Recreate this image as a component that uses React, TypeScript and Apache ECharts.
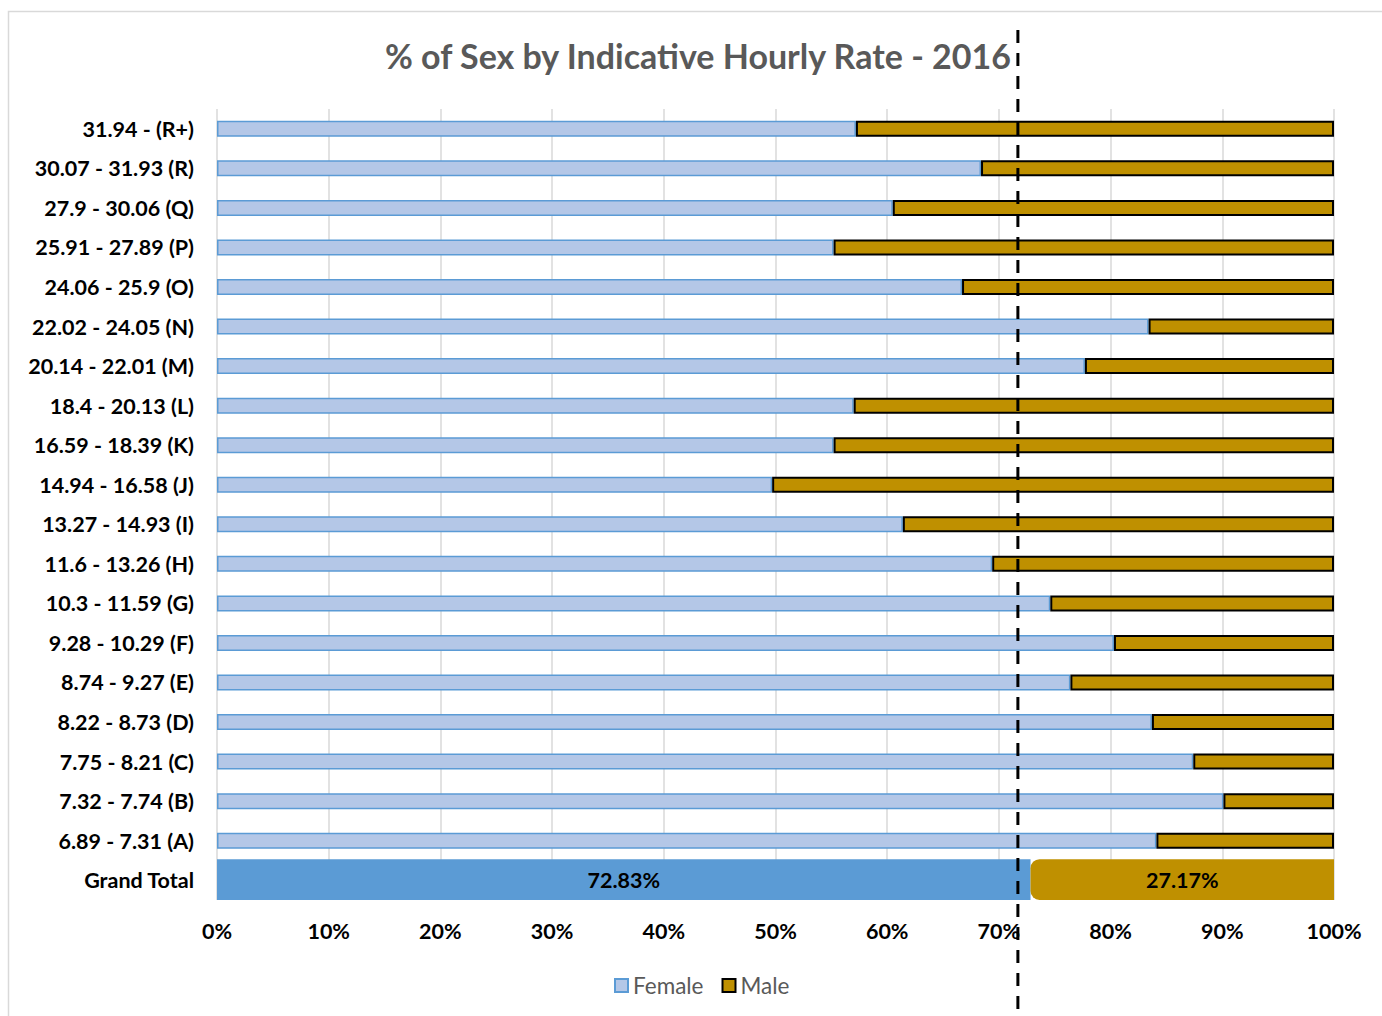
import React, { useEffect, useRef } from "react";
import * as echarts from "echarts";

const categories = [
  "31.94 - (R+)",
  "30.07 - 31.93 (R)",
  "27.9 - 30.06 (Q)",
  "25.91 - 27.89 (P)",
  "24.06 - 25.9 (O)",
  "22.02 - 24.05 (N)",
  "20.14 - 22.01 (M)",
  "18.4 - 20.13 (L)",
  "16.59 - 18.39 (K)",
  "14.94 - 16.58 (J)",
  "13.27 - 14.93 (I)",
  "11.6 - 13.26 (H)",
  "10.3 - 11.59 (G)",
  "9.28 - 10.29 (F)",
  "8.74 - 9.27 (E)",
  "8.22 - 8.73 (D)",
  "7.75 - 8.21 (C)",
  "7.32 - 7.74 (B)",
  "6.89 - 7.31 (A)",
];
const femaleValues = [57.2, 68.4, 60.5, 55.2, 66.7, 83.4, 77.7, 57.0, 55.2, 49.7, 61.4, 69.4, 74.6, 80.3, 76.4, 83.7, 87.4, 90.1, 84.1];
const maleValues = [42.8, 31.6, 39.5, 44.8, 33.3, 16.6, 22.3, 43.0, 44.8, 50.3, 38.6, 30.6, 25.4, 19.7, 23.6, 16.3, 12.6, 9.9, 15.9];
const totalLabel = "Grand Total";
const totalFemale = 72.83;
const totalMale = 27.17;
const referenceLineValue = 71.7;
const xTicks = [0, 10, 20, 30, 40, 50, 60, 70, 80, 90, 100];

const FONT = "Lato, 'Open Sans', sans-serif";
const LABEL_SIZE = 21.5;

export default function App() {
  const ref = useRef<HTMLDivElement>(null);
  useEffect(() => {
    if (!ref.current) return;
    const chart = echarts.init(ref.current, undefined, { renderer: "svg" });
    const allCats = [...categories, totalLabel];
    const femaleData = [...femaleValues, "-"];
    const maleData = [...maleValues, "-"];
    const totalFemaleData = allCats.map((c) => (c === totalLabel ? totalFemale : "-"));
    const totalMaleData = allCats.map((c) => (c === totalLabel ? totalMale : "-"));

    const boldLabel = {
      fontFamily: FONT,
      fontSize: LABEL_SIZE,
      fontWeight: "bold",
      color: "#000",
    };

    chart.setOption({
      animation: false,
      textStyle: { fontFamily: FONT },
      title: {
        text: "% of Sex by Indicative Hourly Rate - 2016",
        left: 380,
        top: 33,
        textStyle: { fontFamily: FONT, fontSize: 34, fontWeight: "bold", color: "#595959" },
      },
      legend: {
        data: ["Female", "Male"],
        left: 609,
        top: 969,
        icon: "rect",
        itemWidth: 13,
        itemHeight: 13,
        itemGap: 18,
        itemTextGap: 6,
        textStyle: { fontFamily: FONT, fontSize: 22.5, color: "#595959" },
      },
      grid: { left: 217, right: 48, top: 109, bottom: 116, containLabel: false },
      xAxis: {
        type: "value",
        min: xTicks[0],
        max: xTicks[xTicks.length - 1],
        interval: 10,
        axisLine: { show: false },
        axisTick: { show: false },
        splitLine: { lineStyle: { color: "#d9d9d9", width: 1.5 } },
        axisLabel: { formatter: "{value}%", margin: 20, ...boldLabel },
      },
      yAxis: [
        {
          type: "category",
          data: allCats,
          inverse: true,
          axisLine: { show: false },
          axisTick: { show: false },
          axisLabel: { margin: 23, ...boldLabel },
        },
        { type: "category", data: allCats, inverse: true, show: false },
      ],
      series: [
        {
          name: "Female",
          type: "bar",
          stack: "rows",
          yAxisIndex: 0,
          barWidth: 16,
          data: femaleData,
          itemStyle: { color: "#B4C7E7", borderColor: "#5B9BD5", borderWidth: 1.5 },
        },
        {
          name: "Male",
          type: "bar",
          stack: "rows",
          yAxisIndex: 0,
          barWidth: 16,
          data: maleData,
          itemStyle: { color: "#BF9000", borderColor: "#000", borderWidth: 2 },
        },
        {
          name: "Female total",
          type: "bar",
          stack: "total",
          yAxisIndex: 1,
          barWidth: 42,
          data: totalFemaleData,
          itemStyle: { color: "#5B9BD5" },
          label: { show: true, position: "inside", formatter: "{c}%", ...boldLabel },
        },
        {
          name: "Male total",
          type: "bar",
          stack: "total",
          yAxisIndex: 1,
          barWidth: 42,
          data: totalMaleData,
          itemStyle: { color: "#BF9000", borderRadius: [9, 0, 0, 9] },
          label: { show: true, position: "inside", formatter: "{c}%", ...boldLabel },
        },
      ],
    });

    const px = chart.convertToPixel({ xAxisIndex: 0 }, referenceLineValue) as number;
    chart.setOption({
      graphic: [
        {
          type: "rect",
          z: -10,
          silent: true,
          shape: { x: 8.5, y: 11.5, width: 1500, height: 1100 },
          style: { fill: "none", stroke: "#d9d9d9", lineWidth: 1.5 },
        },
        {
          type: "line",
          z: 100,
          silent: true,
          shape: { x1: px, y1: 30, x2: px, y2: 1016 },
          style: { stroke: "#000", lineWidth: 3, lineDash: [13, 10] },
        },
      ],
    });

    return () => chart.dispose();
  }, []);
  return (
    <div
      ref={ref}
      style={{ position: "fixed", left: 0, top: 0, width: 1382, height: 1016, background: "#fff" }}
    />
  );
}
